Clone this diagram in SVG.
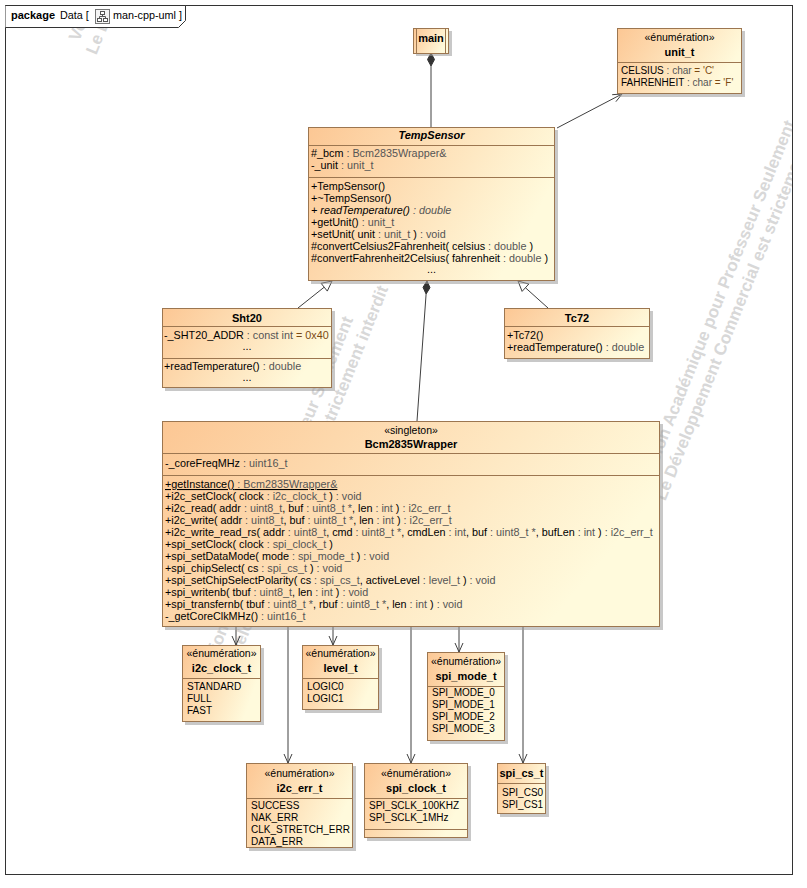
<svg xmlns="http://www.w3.org/2000/svg" width="807" height="888" viewBox="0 0 807 888">
<defs>
<linearGradient id="fill" x1="0" y1="0" x2="1" y2="0.35">
<stop offset="0" stop-color="#FCC794"/>
<stop offset="1" stop-color="#FFFADC"/>
</linearGradient>
<clipPath id="frameClip"><rect x="6" y="6" width="786" height="868"/></clipPath>
<style>
text{font-family:"Liberation Sans",Arial,sans-serif;font-size:10.8px;fill:#000}
.b{font-weight:bold;font-size:11px}
.i{font-style:italic}
.c{text-anchor:middle}
.st{font-size:10.5px}
.g{fill:#555}
.v{fill:#7B4A12}
.lit{font-size:10px}
.box{fill:url(#fill);stroke:#9C7650;stroke-width:1}
.sh{fill:#9a9a9a;opacity:.55}
.div{stroke:#9C7650;stroke-width:1}
.ln{stroke:#404040;stroke-width:1;fill:none}
.wm{font-size:17px;font-weight:bold;fill:#D8D8D8}
</style>
</defs>
<rect width="807" height="888" fill="#fff"/>

<!-- watermark -->
<g id="watermark" clip-path="url(#frameClip)">
<g transform="translate(79,42) rotate(-68)"><text class="wm" x="0" y="0">Version Académique pour Professeur Seulement</text><text class="wm" x="-6" y="21">Le Développement Commercial est strictement interdit</text></g>
<g transform="translate(206,684) rotate(-68)"><text class="wm" x="0" y="0">Version Académique pour Professeur Seulement</text><text class="wm" x="-6" y="21">Le Développement Commercial est strictement interdit</text></g>
<g transform="translate(648,488) rotate(-68)"><text class="wm" x="0" y="0">Version Académique pour Professeur Seulement</text><text class="wm" x="-6" y="21">Le Développement Commercial est strictement interdit</text></g>
</g>

<!-- package frame -->
<g id="package">
<rect x="5.5" y="5.5" width="787" height="869" fill="none" stroke="#333" stroke-width="1"/>
<path d="M5.5,5.5 H185.5 V20.5 L178.5,27.5 H5.5" fill="#fff" stroke="#333" stroke-width="1"/>
<text x="11" y="19" class="b">package</text>
<text x="60" y="19">Data [</text>
<g id="pkgicon">
<rect x="95.5" y="9.5" width="14" height="14" fill="#f4f4f4" stroke="#777"/>
<rect x="100.5" y="11.5" width="4" height="3" fill="#fff" stroke="#555"/>
<rect x="97.5" y="18.5" width="4" height="3" fill="#fff" stroke="#555"/>
<rect x="103.5" y="18.5" width="4" height="3" fill="#fff" stroke="#555"/>
<path d="M102.5,14.5 V16.5 M99.5,16.5 H105.5 M99.5,16.5 V18.5 M105.5,16.5 V18.5" stroke="#555" fill="none"/>
</g>
<text x="113" y="19">man-cpp-uml ]</text>
</g>

<!-- connectors -->
<g id="connectors">
<line class="ln" x1="431" y1="66" x2="431" y2="127"/>
<polygon points="431,53 434.5,59.5 431,66 427.5,59.5" fill="#333" stroke="#333"/>
<line class="ln" x1="557" y1="128" x2="622" y2="94"/>
<polyline class="ln" points="615.9,101.7 622,94 612.2,94.7"/>
<line class="ln" x1="298" y1="308" x2="324.2" y2="287.2"/>
<polygon points="332,281 327.3,291.1 321.1,283.3" fill="#fff" stroke="#404040"/>
<line class="ln" x1="548" y1="308" x2="525.4" y2="287.7"/>
<polygon points="518,281 522.1,291.4 528.8,284" fill="#fff" stroke="#404040"/>
<line class="ln" x1="426.1" y1="294" x2="417" y2="421"/>
<polygon points="427,281 430,287.7 426.1,294 423,287.3" fill="#333" stroke="#333"/>
<line class="ln" x1="236" y1="627" x2="236" y2="645"/>
<polyline class="ln" points="232,636 236,645 240,636"/>
<line class="ln" x1="288" y1="627" x2="288" y2="763"/>
<polyline class="ln" points="284,754 288,763 292,754"/>
<line class="ln" x1="333" y1="627" x2="333" y2="645"/>
<polyline class="ln" points="329,636 333,645 337,636"/>
<line class="ln" x1="411" y1="627" x2="411" y2="763"/>
<polyline class="ln" points="407,754 411,763 415,754"/>
<line class="ln" x1="459" y1="627" x2="459" y2="652"/>
<polyline class="ln" points="455,643 459,652 463,643"/>
<line class="ln" x1="523" y1="627" x2="523" y2="763"/>
<polyline class="ln" points="519,754 523,763 527,754"/>
</g>

<!-- main -->
<g id="main">
<rect class="sh" x="416" y="31" width="36" height="25"/>
<rect class="box" x="413.5" y="28.5" width="35" height="25"/>
<line class="div" x1="416.5" y1="28.5" x2="416.5" y2="53.5"/>
<line class="div" x1="445.5" y1="28.5" x2="445.5" y2="53.5"/>
<text x="431" y="42" class="b c">main</text>
</g>

<!-- unit_t -->
<g id="unit_t">
<rect class="sh" x="620" y="31" width="125" height="66"/>
<rect class="box" x="617.5" y="28.5" width="124" height="65"/>
<text x="679.5" y="41" class="c st">«énumération»</text>
<text x="679.5" y="56" class="b c">unit_t</text>
<line class="div" x1="617.5" y1="62.5" x2="741.5" y2="62.5"/>
<text x="621" y="74" class="lit">CELSIUS<tspan class="g"> : char</tspan><tspan class="v"> = 'C'</tspan></text>
<text x="621" y="86" class="lit">FAHRENHEIT<tspan class="g"> : char</tspan><tspan class="v"> = 'F'</tspan></text>
</g>

<!-- TempSensor -->
<g id="TempSensor">
<rect class="sh" x="311" y="130" width="247" height="154"/>
<rect class="box" x="308.5" y="127.5" width="246" height="153"/>
<text x="431.5" y="139" class="b i c">TempSensor</text>
<line class="div" x1="308.5" y1="145.5" x2="554.5" y2="145.5"/>
<text x="311" y="157">#_bcm<tspan class="g"> : Bcm2835Wrapper&amp;</tspan></text>
<text x="311" y="169">-_unit<tspan class="g"> : unit_t</tspan></text>
<line class="div" x1="308.5" y1="177.5" x2="554.5" y2="177.5"/>
<text x="311" y="190">+TempSensor()</text>
<text x="311" y="202">+~TempSensor()</text>
<text x="311" y="214" class="i">+ readTemperature()<tspan class="g"> : double</tspan></text>
<text x="311" y="226">+getUnit()<tspan class="g"> : unit_t</tspan></text>
<text x="311" y="238">+setUnit( unit<tspan class="g"> : unit_t</tspan> )<tspan class="g"> : void</tspan></text>
<text x="311" y="250">#convertCelsius2Fahrenheit( celsius<tspan class="g"> : double</tspan> )</text>
<text x="311" y="262">#convertFahrenheit2Celsius( fahrenheit<tspan class="g"> : double</tspan> )</text>
<text x="431.5" y="273" class="c">...</text>
</g>

<!-- Sht20 -->
<g id="Sht20">
<rect class="sh" x="165" y="311" width="170" height="80"/>
<rect class="box" x="162.5" y="308.5" width="169" height="79"/>
<text x="247" y="322" class="b c">Sht20</text>
<line class="div" x1="162.5" y1="326.5" x2="331.5" y2="326.5"/>
<text x="164" y="339">-_SHT20_ADDR<tspan class="g"> : const int</tspan><tspan class="v"> = 0x40</tspan></text>
<text x="247" y="350" class="c">...</text>
<line class="div" x1="162.5" y1="358.5" x2="331.5" y2="358.5"/>
<text x="164" y="370">+readTemperature()<tspan class="g"> : double</tspan></text>
<text x="247" y="381" class="c">...</text>
</g>

<!-- Tc72 -->
<g id="Tc72">
<rect class="sh" x="507" y="311" width="146" height="51"/>
<rect class="box" x="504.5" y="308.5" width="145" height="50"/>
<text x="577" y="322" class="b c">Tc72</text>
<line class="div" x1="504.5" y1="326.5" x2="649.5" y2="326.5"/>
<text x="507" y="339">+Tc72()</text>
<text x="507" y="351">+readTemperature()<tspan class="g"> : double</tspan></text>
</g>

<!-- Bcm2835Wrapper -->
<g id="Bcm2835Wrapper">
<rect class="sh" x="165" y="424" width="498" height="206"/>
<rect class="box" x="162.5" y="421.5" width="497" height="205"/>
<text x="411" y="434" class="c st">«singleton»</text>
<text x="411" y="448" class="b c">Bcm2835Wrapper</text>
<line class="div" x1="162.5" y1="453.5" x2="659.5" y2="453.5"/>
<text x="165" y="467">-_coreFreqMHz<tspan class="g"> : uint16_t</tspan></text>
<line class="div" x1="162.5" y1="475.5" x2="659.5" y2="475.5"/>
<text x="165" y="488" text-decoration="underline">+getInstance()<tspan class="g"> : Bcm2835Wrapper&amp;</tspan></text>
<text x="165" y="500">+i2c_setClock( clock<tspan class="g"> : i2c_clock_t</tspan> )<tspan class="g"> : void</tspan></text>
<text x="165" y="512">+i2c_read( addr<tspan class="g"> : uint8_t</tspan>, buf<tspan class="g"> : uint8_t *</tspan>, len<tspan class="g"> : int</tspan> )<tspan class="g"> : i2c_err_t</tspan></text>
<text x="165" y="524">+i2c_write( addr<tspan class="g"> : uint8_t</tspan>, buf<tspan class="g"> : uint8_t *</tspan>, len<tspan class="g"> : int</tspan> )<tspan class="g"> : i2c_err_t</tspan></text>
<text x="165" y="536">+i2c_write_read_rs( addr<tspan class="g"> : uint8_t</tspan>, cmd<tspan class="g"> : uint8_t *</tspan>, cmdLen<tspan class="g"> : int</tspan>, buf<tspan class="g"> : uint8_t *</tspan>, bufLen<tspan class="g"> : int</tspan> )<tspan class="g"> : i2c_err_t</tspan></text>
<text x="165" y="548">+spi_setClock( clock<tspan class="g"> : spi_clock_t</tspan> )</text>
<text x="165" y="560">+spi_setDataMode( mode<tspan class="g"> : spi_mode_t</tspan> )<tspan class="g"> : void</tspan></text>
<text x="165" y="572">+spi_chipSelect( cs<tspan class="g"> : spi_cs_t</tspan> )<tspan class="g"> : void</tspan></text>
<text x="165" y="584">+spi_setChipSelectPolarity( cs<tspan class="g"> : spi_cs_t</tspan>, activeLevel<tspan class="g"> : level_t</tspan> )<tspan class="g"> : void</tspan></text>
<text x="165" y="596">+spi_writenb( tbuf<tspan class="g"> : uint8_t</tspan>, len<tspan class="g"> : int</tspan> )<tspan class="g"> : void</tspan></text>
<text x="165" y="608">+spi_transfernb( tbuf<tspan class="g"> : uint8_t *</tspan>, rbuf<tspan class="g"> : uint8_t *</tspan>, len<tspan class="g"> : int</tspan> )<tspan class="g"> : void</tspan></text>
<text x="165" y="620">-_getCoreClkMHz()<tspan class="g"> : uint16_t</tspan></text>
</g>

<!-- i2c_clock_t -->
<g id="i2c_clock_t">
<rect class="sh" x="185" y="648" width="79" height="77"/>
<rect class="box" x="182.5" y="645.5" width="78" height="76"/>
<text x="221.5" y="657" class="c st">«énumération»</text>
<text x="221.5" y="672" class="b c">i2c_clock_t</text>
<line class="div" x1="182.5" y1="678.5" x2="260.5" y2="678.5"/>
<text x="187" y="690" class="lit">STANDARD</text>
<text x="187" y="702" class="lit">FULL</text>
<text x="187" y="714" class="lit">FAST</text>
</g>

<!-- level_t -->
<g id="level_t">
<rect class="sh" x="305" y="648" width="77" height="65"/>
<rect class="box" x="302.5" y="645.5" width="76" height="64"/>
<text x="340.5" y="657" class="c st">«énumération»</text>
<text x="340.5" y="672" class="b c">level_t</text>
<line class="div" x1="302.5" y1="678.5" x2="378.5" y2="678.5"/>
<text x="307" y="690" class="lit">LOGIC0</text>
<text x="307" y="702" class="lit">LOGIC1</text>
</g>

<!-- spi_mode_t -->
<g id="spi_mode_t">
<rect class="sh" x="430" y="655" width="78" height="89"/>
<rect class="box" x="427.5" y="652.5" width="77" height="88"/>
<text x="466" y="665" class="c st">«énumération»</text>
<text x="466" y="680" class="b c">spi_mode_t</text>
<line class="div" x1="427.5" y1="686.5" x2="504.5" y2="686.5"/>
<text x="432" y="696" class="lit">SPI_MODE_0</text>
<text x="432" y="708" class="lit">SPI_MODE_1</text>
<text x="432" y="720" class="lit">SPI_MODE_2</text>
<text x="432" y="732" class="lit">SPI_MODE_3</text>
</g>

<!-- i2c_err_t -->
<g id="i2c_err_t">
<rect class="sh" x="249" y="766" width="107" height="85"/>
<rect class="box" x="246.5" y="763.5" width="106" height="84"/>
<text x="299.5" y="777" class="c st">«énumération»</text>
<text x="299.5" y="792" class="b c">i2c_err_t</text>
<line class="div" x1="246.5" y1="798.5" x2="352.5" y2="798.5"/>
<text x="251" y="809" class="lit">SUCCESS</text>
<text x="251" y="821" class="lit">NAK_ERR</text>
<text x="251" y="833" class="lit">CLK_STRETCH_ERR</text>
<text x="251" y="845" class="lit">DATA_ERR</text>
</g>

<!-- spi_clock_t -->
<g id="spi_clock_t">
<rect class="sh" x="367" y="766" width="104" height="75"/>
<rect class="box" x="364.5" y="763.5" width="103" height="74"/>
<text x="416" y="777" class="c st">«énumération»</text>
<text x="416" y="792" class="b c">spi_clock_t</text>
<line class="div" x1="364.5" y1="798.5" x2="467.5" y2="798.5"/>
<text x="369" y="809" class="lit">SPI_SCLK_100KHZ</text>
<text x="369" y="821" class="lit">SPI_SCLK_1MHz</text>
<line class="div" x1="364.5" y1="829.5" x2="467.5" y2="829.5"/>
</g>

<!-- spi_cs_t -->
<g id="spi_cs_t">
<rect class="sh" x="500" y="766" width="49" height="51"/>
<rect class="box" x="497.5" y="763.5" width="48" height="50"/>
<text x="521.5" y="777" class="b c">spi_cs_t</text>
<line class="div" x1="497.5" y1="783.5" x2="545.5" y2="783.5"/>
<text x="502" y="796" class="lit">SPI_CS0</text>
<text x="502" y="808" class="lit">SPI_CS1</text>
</g>
</svg>
